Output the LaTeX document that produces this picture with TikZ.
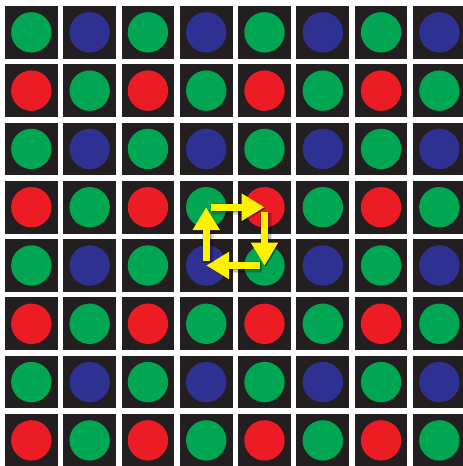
\documentclass[tikz,border=0pt]{standalone}
\usepackage{xcolor}
\usepackage{tikz}
\usetikzlibrary{arrows.meta}

\definecolor{cellbg}{HTML}{231F20}
\definecolor{bgreen}{HTML}{00A651}
\definecolor{bblue}{HTML}{2E3192}
\definecolor{bred}{HTML}{ED1C24}
\definecolor{ayellow}{HTML}{FFF200}
\colorlet{dot0}{bgreen}
\colorlet{dot1}{bblue}
\colorlet{dot2}{bred}
\colorlet{dot3}{bgreen}

\begin{document}
\begin{tikzpicture}[x=1pt, y=-1pt,
  cell/.style={rectangle, fill=cellbg, minimum size=52.7pt, inner sep=0pt},
  dot/.style={circle, minimum size=40.4pt, inner sep=0pt},
  arr/.style={-{Triangle[length=23pt, width=26pt]}, line width=7pt,
              draw=ayellow, shorten <=4.5pt,
              preaction={draw=black, opacity=0.12, line width=12pt,
                         transform canvas={xshift=1.5pt, yshift=-1.5pt}},
              preaction={draw=black, opacity=0.15, line width=9pt,
                         transform canvas={xshift=1.5pt, yshift=-1.5pt}},
              preaction={draw=black, opacity=0.2, line width=7pt,
                         transform canvas={xshift=1pt, yshift=-1pt}}}
]
  \clip (0,0) rectangle (463,466);
  % Bayer mosaic
  \foreach \i in {0,...,7}
    \foreach \j in {0,...,7} {
      \pgfmathtruncatemacro\k{mod(\i,2)*2+mod(\j,2)}
      \node[cell] (s-\i-\j) at (31.35+58.29*\j, 32.35+58.29*\i) {};
      \node[dot, fill=dot\k] (d-\i-\j) at (s-\i-\j.center) {};
    }
  % demosaicing loop
  \draw[arr] (d-3-3.center) -- (d-3-4.center);
  \draw[arr] (d-3-4.center) -- (d-4-4.center);
  \draw[arr] (d-4-4.center) -- (d-4-3.center);
  \draw[arr] (d-4-3.center) -- (d-3-3.center);
\end{tikzpicture}
\end{document}
